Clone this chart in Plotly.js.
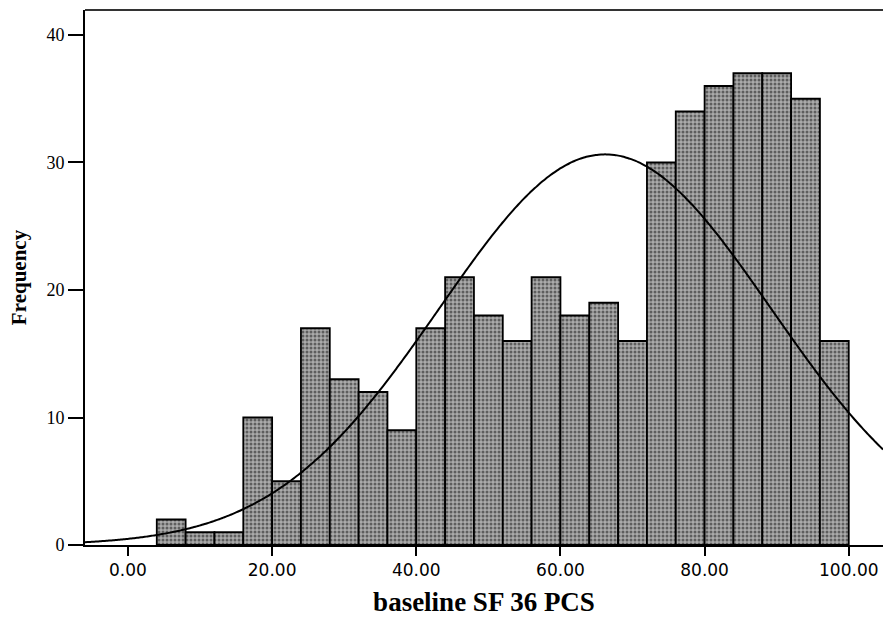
<!DOCTYPE html>
<html>
<head>
<meta charset="utf-8">
<script src="https://cdn.plot.ly/plotly-3.0.1.min.js"></script>
<style>html,body{margin:0;padding:0;background:#fff;}#chart{width:883px;height:617px;}</style>
</head>
<body>
<div id="chart"></div>
<script>
// Histogram bins (centres, width 4) and frequencies
var binCenters = [6, 10, 14, 18, 22, 26, 30, 34, 38, 42, 46, 50, 54, 58, 62, 66, 70, 74, 78, 82, 86, 90, 94, 98];
var frequencies = [2, 1, 1, 10, 5, 17, 13, 12, 9, 17, 21, 18, 16, 21, 18, 19, 16, 30, 34, 36, 37, 37, 35, 16];
var binWidth = 4;
var xTickVals = [0, 20, 40, 60, 80, 100];
var xTickText = ["0.00", "20.00", "40.00", "60.00", "80.00", "100.00"];
var yTickVals = [0, 10, 20, 30, 40];
// Fitted normal curve parameters
var curveMean = 66.2;
var curveSD = 22.97;

var N = frequencies.reduce(function(a, b){ return a + b; }, 0);
var xRange = [-5.96, 104.75];
var curveX = [], curveY = [];
for (var i = 0; i <= 300; i++) {
  var x = xRange[0] + (xRange[1] - xRange[0]) * i / 300;
  var z = (x - curveMean) / curveSD;
  curveX.push(x);
  curveY.push(N * binWidth / (curveSD * Math.sqrt(2 * Math.PI)) * Math.exp(-0.5 * z * z));
}

var traces = [
  {
    type: 'bar',
    x: binCenters,
    y: frequencies,
    width: binWidth,
    marker: {color: '#9a9a9a', line: {color: '#000', width: 1.8},
             pattern: {shape: '.', fgcolor: '#5e5e5e', bgcolor: '#ababab', size: 4, solidity: 0.45}},
    hoverinfo: 'x+y',
    showlegend: false
  },
  {
    type: 'scatter',
    mode: 'lines',
    x: curveX,
    y: curveY,
    line: {color: '#000', width: 2, shape: 'spline'},
    hoverinfo: 'skip',
    showlegend: false
  }
];

var layout = {
  width: 883,
  height: 617,
  margin: {l: 85, r: 0, t: 10, b: 72},
  paper_bgcolor: '#fff',
  plot_bgcolor: '#fff',
  bargap: 0,
  xaxis: {
    range: xRange,
    tickvals: xTickVals,
    ticktext: xTickText,
    ticks: 'outside',
    ticklen: 9,
    tickwidth: 2,
    tickcolor: '#000',
    showline: true,
    linecolor: '#000',
    linewidth: 2,
    mirror: false,
    showgrid: false,
    zeroline: false,
    tickfont: {family: 'DejaVu Sans, Verdana, sans-serif', size: 17, color: '#000'},
    title: {text: '<b>baseline SF 36 PCS</b>', font: {family: 'Liberation Serif, Times New Roman, serif', size: 27, color: '#000'}, standoff: 13}
  },
  yaxis: {
    range: [0, 41.96],
    tickvals: yTickVals,
    ticks: 'outside',
    ticklen: 15,
    tickwidth: 2,
    tickcolor: '#000',
    showline: true,
    linecolor: '#000',
    linewidth: 2,
    showgrid: false,
    zeroline: false,
    tickfont: {family: 'Liberation Serif, Times New Roman, serif', size: 18, color: '#000'},
    title: {text: '<b>Frequency</b>', font: {family: 'Liberation Serif, Times New Roman, serif', size: 21, color: '#000'}, standoff: 14}
  },
  shapes: [
    {type: 'line', xref: 'paper', yref: 'paper', x0: 0, x1: 1, y0: 1, y1: 1, line: {color: '#333', width: 2}}
  ]
};

Plotly.newPlot('chart', traces, layout, {displayModeBar: false, staticPlot: true});
</script>
</body>
</html>
